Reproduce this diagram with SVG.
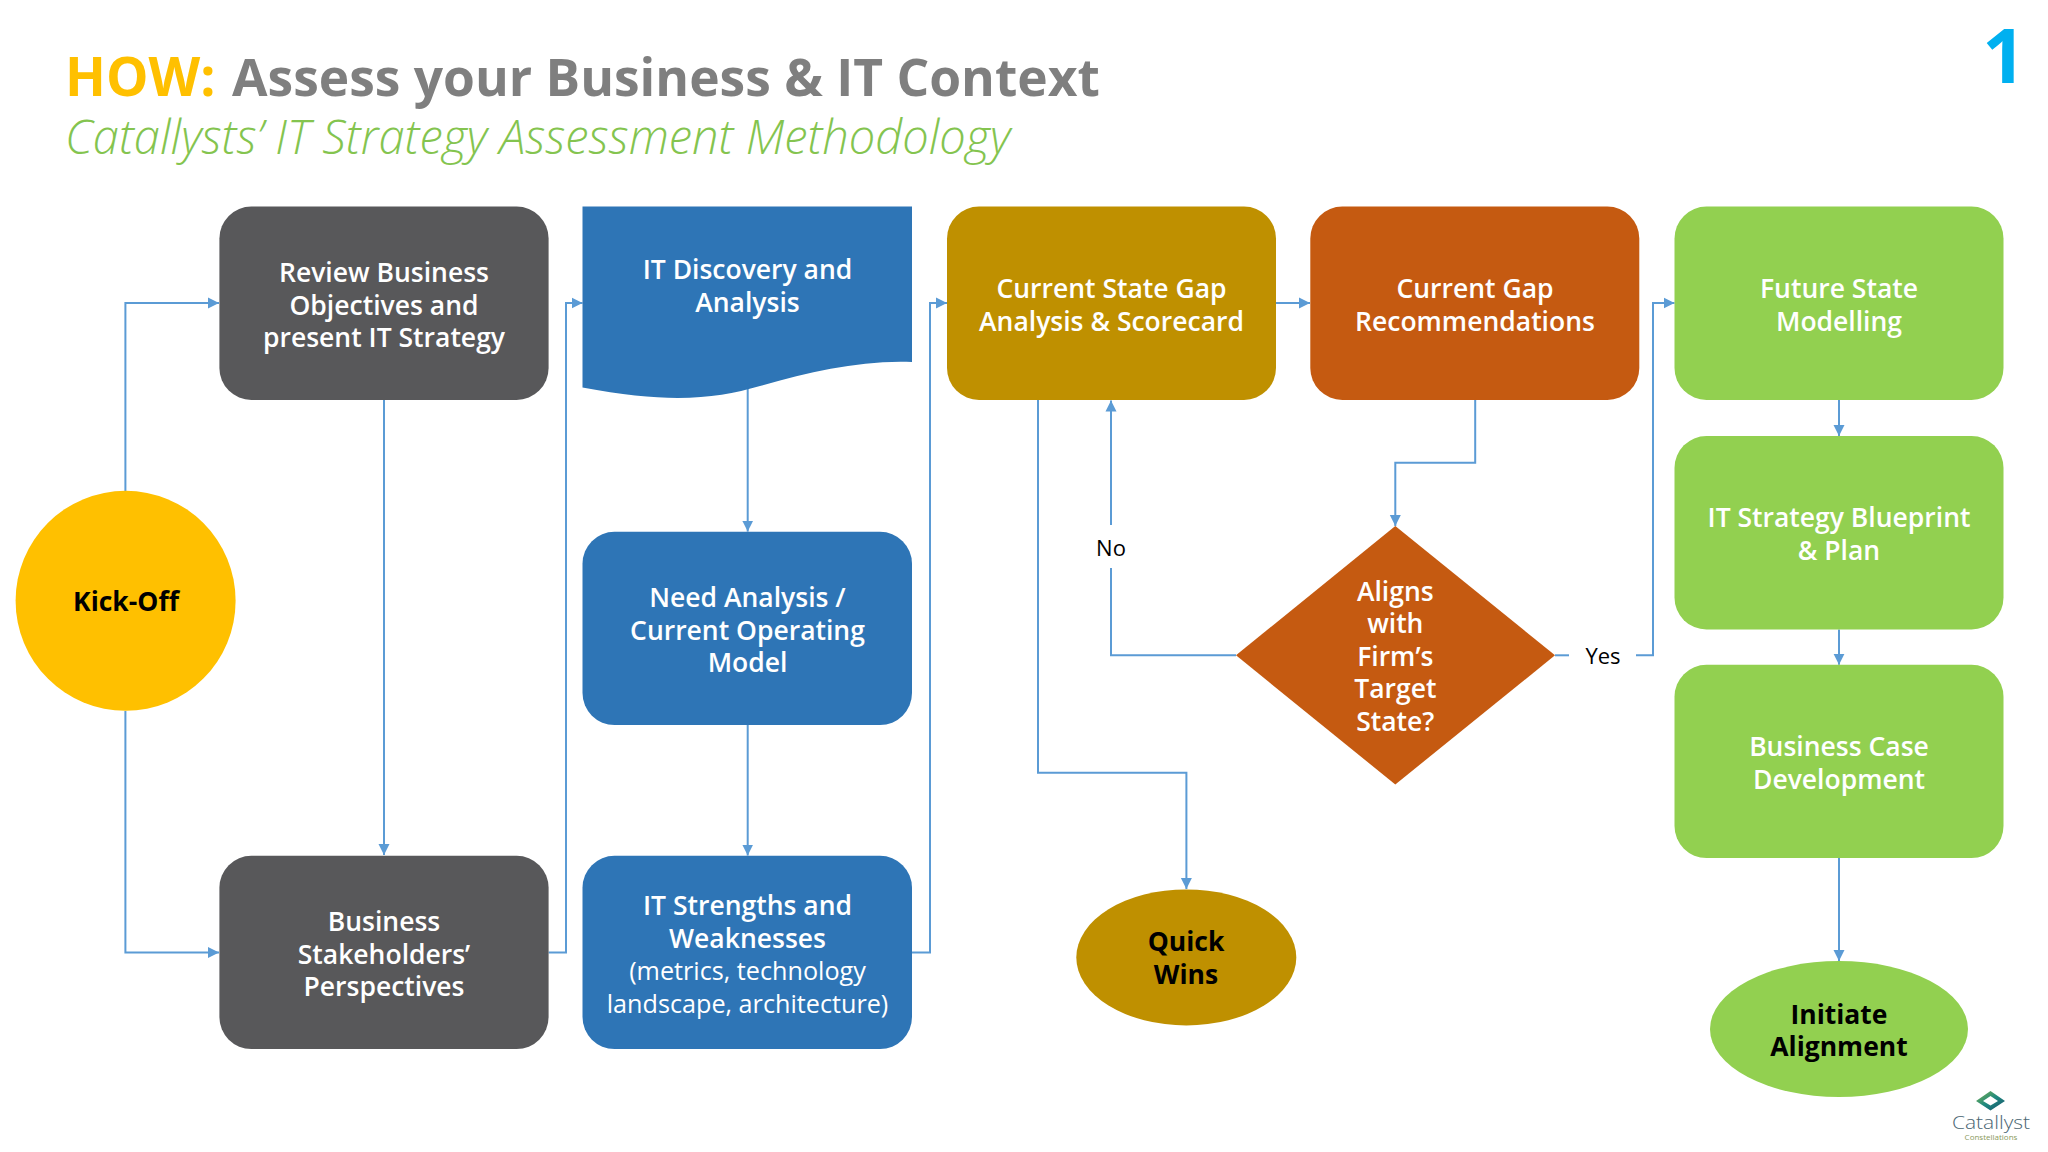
<svg xmlns="http://www.w3.org/2000/svg" width="2048" height="1152" viewBox="0 0 2048 1152">
<style>
text{font-family:"Open Sans","Noto Sans","Liberation Sans",sans-serif;text-anchor:middle}
.w{font-size:26.5px;font-weight:600;fill:#fff}
.k{font-size:26.5px;font-weight:700;fill:#000}
.r{font-size:25.2px;font-weight:400;fill:#fff}
.l{font-size:22px;font-weight:400;fill:#000}
.c{fill:none;stroke:#5b9bd5;stroke-width:2;stroke-linejoin:miter}
.a{marker-end:url(#ah)}
.grey{fill:#58585a}.blue{fill:#2e75b6}.gold{fill:#bf9000}.or{fill:#c55a11}.gr{fill:#92d050}
</style>
<defs>
<marker id="ah" markerUnits="userSpaceOnUse" markerWidth="12" markerHeight="12" refX="11" refY="6" orient="auto"><path d="M0 0.5L11 6L0 11.5Z" fill="#5b9bd5"/></marker>
<linearGradient id="lg" x1="0" y1="0" x2="1" y2="1"><stop offset="0" stop-color="#7fb04a"/><stop offset="0.5" stop-color="#1f8a80"/><stop offset="1" stop-color="#17506a"/></linearGradient>
</defs>
<rect width="2048" height="1152" fill="#fff"/>
<g id="title">
<text x="65" y="95.5" style="text-anchor:start;font-size:53.5px;font-weight:700;fill:#ffc000">HOW:</text>
<text x="232" y="95.5" style="text-anchor:start;font-size:51.5px;font-weight:700;fill:#7f7f7f">Assess your Business &amp; IT Context</text>
<text x="65" y="154" style="text-anchor:start;font-size:47px;font-weight:300;font-style:italic;fill:#84c44f">Catallysts’ IT Strategy Assessment Methodology</text>
<text x="2004" y="82.5" style="font-size:76px;font-weight:700;fill:#00b0f0">1</text>
</g>
<g id="connectors">
<path class="c a" d="M125.4 491V303H219"/>
<path class="c a" d="M125.4 711V952.5H219"/>
<path class="c a" d="M384 400V855"/>
<path class="c a" d="M548.6 952.5H566V303H582.5"/>
<path class="c a" d="M747.7 385V531.6"/>
<path class="c a" d="M747.7 725V855.5"/>
<path class="c a" d="M911.7 952.5H930V303H947"/>
<path class="c a" d="M1276 303H1310"/>
<path class="c a" d="M1475.2 400V462.7H1395.3V526"/>
<path class="c" d="M1236 655.3H1111V568"/>
<path class="c a" d="M1111 525V400.5"/>
<path class="c" d="M1555 655.3H1569"/>
<path class="c a" d="M1636 655.3H1653V303H1674.5"/>
<path class="c a" d="M1038 400V772.7H1186.4V889"/>
<path class="c a" d="M1839 400V436"/>
<path class="c a" d="M1839 629.5V664.8"/>
<path class="c a" d="M1839 858V961"/>
<text class="l" x="1111" y="555.5">No</text>
<text class="l" x="1603" y="663.5">Yes</text>
</g>
<g id="kickoff"><circle cx="125.6" cy="600.8" r="110" fill="#ffc000"/><text class="k" x="126" y="611">Kick-Off</text></g>
<g id="review"><rect class="grey" x="219.4" y="206.6" width="329.2" height="193.3" rx="32"/><text class="w" x="384" y="282">Review Business</text><text class="w" x="384" y="314.5">Objectives and</text><text class="w" x="384" y="347">present IT Strategy</text></g>
<g id="stakeholders"><rect class="grey" x="219.4" y="855.8" width="329.2" height="193.3" rx="32"/><text class="w" x="384" y="931">Business</text><text class="w" x="384" y="963.5">Stakeholders’</text><text class="w" x="384" y="996">Perspectives</text></g>
<g id="discovery"><path class="blue" d="M582.5 206.6H912V362C860 360 810 372 760 386C715 399 670 404 582.5 387.6Z"/><text class="w" x="747.5" y="279">IT Discovery and</text><text class="w" x="747.5" y="311.5">Analysis</text></g>
<g id="need"><rect class="blue" x="582.5" y="531.8" width="329.5" height="193.3" rx="32"/><text class="w" x="747.5" y="607">Need Analysis /</text><text class="w" x="747.5" y="639.5">Current Operating</text><text class="w" x="747.5" y="672">Model</text></g>
<g id="strengths"><rect class="blue" x="582.5" y="855.8" width="329.5" height="193.3" rx="32"/><text class="w" x="747.5" y="915">IT Strengths and</text><text class="w" x="747.5" y="947.5">Weaknesses</text><text class="r" x="747.5" y="980">(metrics, technology</text><text class="r" x="747.5" y="1012.5">landscape, architecture)</text></g>
<g id="gapscore"><rect class="gold" x="947" y="206.6" width="329" height="193.3" rx="32"/><text class="w" x="1111.5" y="298">Current State Gap</text><text class="w" x="1111.5" y="330.5">Analysis &amp; Scorecard</text></g>
<g id="gaprec"><rect class="or" x="1310.3" y="206.6" width="329" height="193.3" rx="32"/><text class="w" x="1475" y="298">Current Gap</text><text class="w" x="1475" y="330.5">Recommendations</text></g>
<g id="aligns"><path class="or" d="M1395.3 526L1555 655.3L1395.3 784.5L1236 655.3Z"/><text class="w" x="1395.3" y="600.5">Aligns</text><text class="w" x="1395.3" y="633">with</text><text class="w" x="1395.3" y="665.5">Firm’s</text><text class="w" x="1395.3" y="698">Target</text><text class="w" x="1395.3" y="730.5">State?</text></g>
<g id="quickwins"><ellipse class="gold" cx="1186.3" cy="957.4" rx="110" ry="68"/><text class="k" x="1186" y="951">Quick</text><text class="k" x="1186" y="983.5">Wins</text></g>
<g id="future"><rect class="gr" x="1674.5" y="206.6" width="329" height="193.3" rx="32"/><text class="w" x="1839" y="298">Future State</text><text class="w" x="1839" y="330.5">Modelling</text></g>
<g id="blueprint"><rect class="gr" x="1674.5" y="436" width="329" height="193.5" rx="32"/><text class="w" x="1839" y="527">IT Strategy Blueprint</text><text class="w" x="1839" y="559.5">&amp; Plan</text></g>
<g id="bizcase"><rect class="gr" x="1674.5" y="664.8" width="329" height="193.3" rx="32"/><text class="w" x="1839" y="756">Business Case</text><text class="w" x="1839" y="788.5">Development</text></g>
<g id="initiate"><ellipse class="gr" cx="1839" cy="1029" rx="129" ry="68"/><text class="k" x="1839" y="1023.5">Initiate</text><text class="k" x="1839" y="1055.5">Alignment</text></g>
<g id="logo"><path fill="url(#lg)" fill-rule="evenodd" d="M1990.5 1091L2005 1101L1990.5 1110.5L1976 1101ZM1990.5 1096L1983 1101L1990.5 1105.5L1998 1101Z"/><text x="1991" y="1129" style="font-size:18px;font-weight:300;fill:#4a6572" textLength="78" lengthAdjust="spacingAndGlyphs">Catallyst</text><text x="1991" y="1140" style="font-size:8px;fill:#8a9a5b">Constellations</text></g>
</svg>
